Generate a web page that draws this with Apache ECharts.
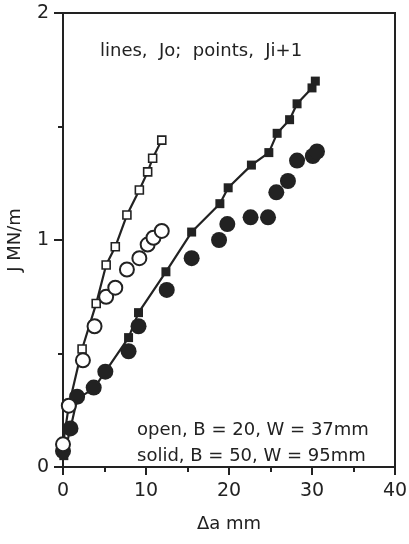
<!DOCTYPE html>
<html>
<head>
    <meta charset="utf-8">
    <title>J resistance curves</title>
    <script src="https://cdn.jsdelivr.net/npm/echarts@6/dist/echarts.min.js"></script>
</head>
<body style="margin:0">
    <div id="chart" style="width:409px;height:544px"></div>
<script>
    // open, B = 20, W = 37mm : Jo (line + squares)
    var openJoX = [0.0, 0.7, 2.3, 4.0, 5.2, 6.3, 7.7, 9.2, 10.2, 10.8, 11.9];
    var openJoY = [0.10, 0.27, 0.52, 0.72, 0.89, 0.97, 1.11, 1.22, 1.30, 1.36, 1.44];
    // open, Ji+1 (circles)
    var openJiX = [0.0, 0.7, 2.4, 3.8, 5.2, 6.3, 7.7, 9.2, 10.2, 10.9, 11.9];
    var openJiY = [0.10, 0.27, 0.47, 0.62, 0.75, 0.79, 0.87, 0.92, 0.98, 1.01, 1.04];
    // solid, B = 50, W = 95mm : Jo (line + squares)
    var solidJoX = [0.1, 0.9, 1.7, 3.7, 5.1, 7.9, 9.1, 12.4, 15.5, 18.9, 19.9, 22.7, 24.8, 25.8, 27.3, 28.2, 30.0, 30.4];
    var solidJoY = [0.05, 0.17, 0.30, 0.345, 0.42, 0.57, 0.68, 0.86, 1.035, 1.16, 1.23, 1.33, 1.385, 1.47, 1.53, 1.60, 1.67, 1.70];
    // solid, Ji+1 (dots)
    var solidJiX = [0.0, 0.9, 1.7, 3.7, 5.1, 7.9, 9.1, 12.5, 15.5, 18.8, 19.8, 22.6, 24.7, 25.7, 27.1, 28.2, 30.1, 30.6];
    var solidJiY = [0.07, 0.17, 0.31, 0.35, 0.42, 0.51, 0.62, 0.78, 0.92, 1.00, 1.07, 1.10, 1.10, 1.21, 1.26, 1.35, 1.37, 1.39];

    var xTicks = [0, 10, 20, 30, 40];
    var yTicks = [0, 1, 2];

    function pairs(xs, ys) {
        var out = [];
        for (var i = 0; i < xs.length; i++) out.push([xs[i], ys[i]]);
        return out;
    }

    var ink = '#222';
    var font = 'DejaVu Sans';

    var chart = echarts.init(document.getElementById('chart'));
    var option = {
        animation: false,
        backgroundColor: '#fff',
        grid: {
            left: 63, right: 14, top: 13, bottom: 77,
            outerBoundsMode: 'none',
            containLabel: false,
            show: true, borderColor: ink, borderWidth: 2
        },
        xAxis: {
            type: 'value',
            min: xTicks[0], max: xTicks[xTicks.length - 1], interval: 10,
            name: 'Δa mm',
            nameLocation: 'middle',
            nameGap: 48,
            nameTextStyle: { fontFamily: font, fontSize: 18, color: ink },
            axisLine: { lineStyle: { color: ink, width: 2 } },
            axisTick: { inside: false, length: 8, lineStyle: { color: ink, width: 2 } },
            minorTick: { show: true, splitNumber: 2, length: 5, lineStyle: { color: ink, width: 2 } },
            axisLabel: { fontFamily: font, fontSize: 19, color: ink, margin: 15 },
            splitLine: { show: false }
        },
        yAxis: {
            type: 'value',
            min: yTicks[0], max: yTicks[yTicks.length - 1], interval: 1,
            name: 'J MN/m',
            nameLocation: 'middle',
            nameGap: 39,
            nameTextStyle: { fontFamily: font, fontSize: 18, color: ink },
            axisLine: { lineStyle: { color: ink, width: 2 } },
            axisTick: { inside: false, length: 9, lineStyle: { color: ink, width: 2 } },
            minorTick: { show: true, splitNumber: 2, length: 5, lineStyle: { color: ink, width: 2 } },
            axisLabel: { fontFamily: font, fontSize: 19, color: ink, margin: 14 },
            splitLine: { show: false }
        },
        graphic: [
            {
                type: 'text', left: 100, top: 42,
                style: { text: 'lines,  Jo;  points,  Ji+1', fontFamily: font, fontSize: 18, fill: ink }
            },
            {
                type: 'text', left: 137, top: 421,
                style: { text: 'open, B = 20, W = 37mm', fontFamily: font, fontSize: 18, fill: ink }
            },
            {
                type: 'text', left: 137, top: 447,
                style: { text: 'solid, B = 50, W = 95mm', fontFamily: font, fontSize: 18, fill: ink }
            }
        ],
        series: [
            {
                name: 'open Jo', type: 'line',
                data: pairs(openJoX, openJoY),
                symbol: 'rect', symbolSize: 8,
                lineStyle: { color: ink, width: 2.2 },
                itemStyle: { color: '#fff', borderColor: ink, borderWidth: 1.6 },
                z: 2
            },
            {
                name: 'solid Jo', type: 'line',
                data: pairs(solidJoX, solidJoY),
                symbol: 'rect', symbolSize: 9,
                lineStyle: { color: ink, width: 2.2 },
                itemStyle: { color: ink, borderColor: ink, borderWidth: 0 },
                z: 2
            },
            {
                name: 'solid Ji+1', type: 'scatter',
                data: pairs(solidJiX, solidJiY),
                symbol: 'circle', symbolSize: 16,
                itemStyle: { color: ink, opacity: 1 },
                z: 3
            },
            {
                name: 'open Ji+1', type: 'scatter',
                data: pairs(openJiX, openJiY),
                symbol: 'circle', symbolSize: 14,
                itemStyle: { color: '#fff', borderColor: ink, borderWidth: 2, opacity: 1 },
                z: 4
            }
        ]
    };
    chart.setOption(option);
</script>
</body>
</html>
